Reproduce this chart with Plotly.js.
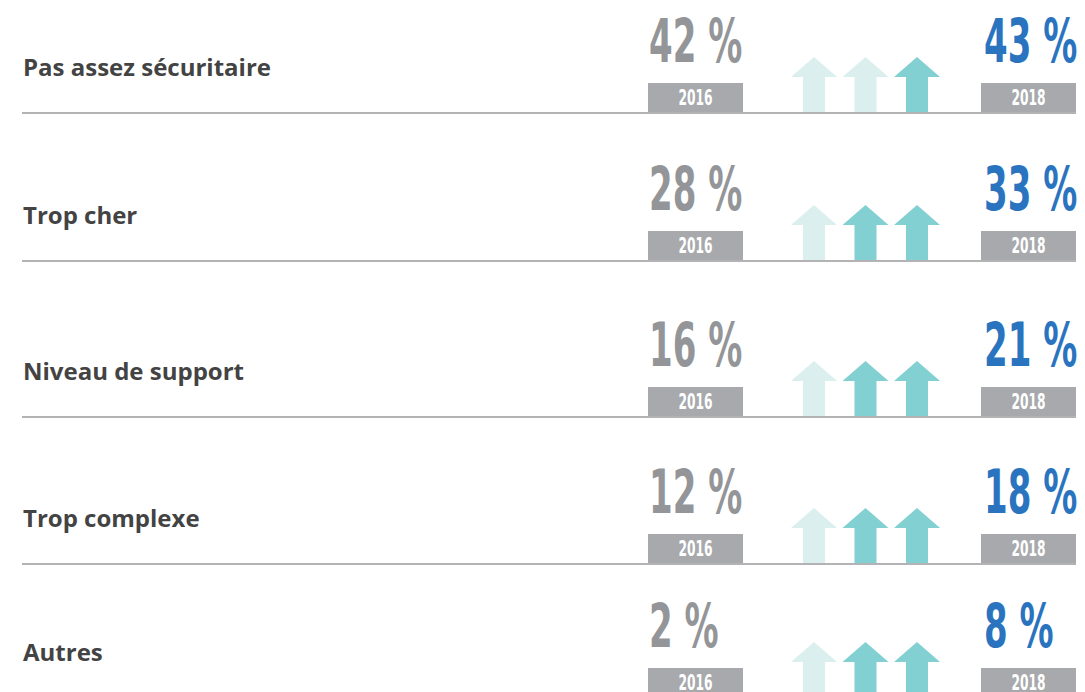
<!DOCTYPE html>
<html>
<head>
<meta charset="utf-8">
<script src="https://cdn.plot.ly/plotly-3.0.1.min.js"></script>
<style>
html,body{margin:0;padding:0;background:#fff;}
#chart{width:1085px;height:692px;}
</style>
</head>
<body>
<div id="chart"></div>
<script>
// ---- data ----
const categories = ['Pas assez sécuritaire', 'Trop cher', 'Niveau de support', 'Trop complexe', 'Autres'];
const values2016 = [42, 28, 16, 12, 2];
const values2018 = [43, 33, 21, 18, 8];
const yearLabels = ['2016', '2018'];
const arrowsLit = [1, 2, 2, 2, 2];

// ---- layout constants ----
const W = 1085, H = 692;
const rowBottom = [112, 260, 416, 563, 697];
const box1 = [648, 743], box2 = [981, 1076];
const boxH = 29;
const arrowCenters = [814, 865.5, 917];
const arrowHalfHead = 23, arrowHalfShaft = 11, arrowTip = 55, arrowHeadBase = 35;
const colLight = '#dbefef', colDark = '#82d0d1';
const colGray = '#939598', colBlue = '#2a74bf', colBox = '#a7a9ac', colLine = '#b3b3b5', colLabel = '#434343';
const numFont = 'DejaVu Sans Condensed, DejaVu Sans, sans-serif';
const labelFont = 'Open Sans, Noto Sans, sans-serif';

const traces = [];
const shapes = [];
const annotations = [];
const condense = []; // [annotation index, scale, origin]

categories.forEach((cat, i) => {
  const B = rowBottom[i];
  shapes.push({type: 'line', xref: 'x', yref: 'y', x0: 22, x1: 1076, y0: B + 1, y1: B + 1,
    line: {color: colLine, width: 2}, layer: 'below'});
  [box1, box2].forEach((bx, k) => {
    shapes.push({type: 'rect', xref: 'x', yref: 'y', x0: bx[0], x1: bx[1], y0: B - boxH, y1: B,
      fillcolor: colBox, line: {width: 0}});
    condense.push([annotations.length, 0.62, 'center']);
    annotations.push({x: (bx[0] + bx[1]) / 2, y: B - 15, xref: 'x', yref: 'y', text: '<b>' + yearLabels[k] + '</b>',
      showarrow: false, xanchor: 'center', yanchor: 'middle', borderpad: 0,
      font: {family: numFont, size: 22, color: '#ffffff'}});
  });
  arrowCenters.forEach((cx, k) => {
    const lit = k >= arrowCenters.length - arrowsLit[i];
    const xs = [cx - arrowHalfShaft, cx - arrowHalfShaft, cx - arrowHalfHead, cx, cx + arrowHalfHead, cx + arrowHalfShaft, cx + arrowHalfShaft, cx - arrowHalfShaft];
    const ys = [B, B - arrowHeadBase, B - arrowHeadBase, B - arrowTip, B - arrowHeadBase, B - arrowHeadBase, B, B];
    traces.push({type: 'scatter', mode: 'lines', x: xs, y: ys, fill: 'toself',
      fillcolor: lit ? colDark : colLight, line: {width: 0, color: lit ? colDark : colLight},
      hoverinfo: 'skip', showlegend: false});
  });
  annotations.push({x: 22, y: B - 46, xref: 'x', yref: 'y', text: cat,
    showarrow: false, xanchor: 'left', yanchor: 'middle', borderpad: 0,
    font: {family: labelFont, size: 24, weight: 700, color: colLabel}});
  condense.push([annotations.length, 0.63, 'left']);
  annotations.push({x: box1[0], y: B - 71, xref: 'x', yref: 'y', text: '<b>' + values2016[i] + ' %</b>',
    showarrow: false, xanchor: 'left', yanchor: 'middle', borderpad: 0,
    font: {family: numFont, size: 60, color: colGray}});
  condense.push([annotations.length, 0.63, 'left']);
  annotations.push({x: box2[0] + 2, y: B - 71, xref: 'x', yref: 'y', text: '<b>' + values2018[i] + ' %</b>',
    showarrow: false, xanchor: 'left', yanchor: 'middle', borderpad: 0,
    font: {family: numFont, size: 60, color: colBlue}});
});

const layout = {
  width: W, height: H,
  margin: {l: 0, r: 0, t: 0, b: 0},
  paper_bgcolor: '#ffffff', plot_bgcolor: '#ffffff',
  xaxis: {range: [0, W], visible: false, fixedrange: true},
  yaxis: {range: [H, 0], visible: false, fixedrange: true},
  shapes: shapes,
  annotations: annotations,
  showlegend: false
};

Plotly.newPlot('chart', traces, layout, {staticPlot: true}).then(gd => {
  condense.forEach(([idx, s, origin]) => {
    const g = gd.querySelector('g.annotation[data-index="' + idx + '"] text.annotation-text');
    if (!g) return;
    g.style.transformBox = 'fill-box';
    g.style.transformOrigin = origin + ' center';
    g.style.transform = 'scaleX(' + s + ')';
  });
});
</script>
</body>
</html>
